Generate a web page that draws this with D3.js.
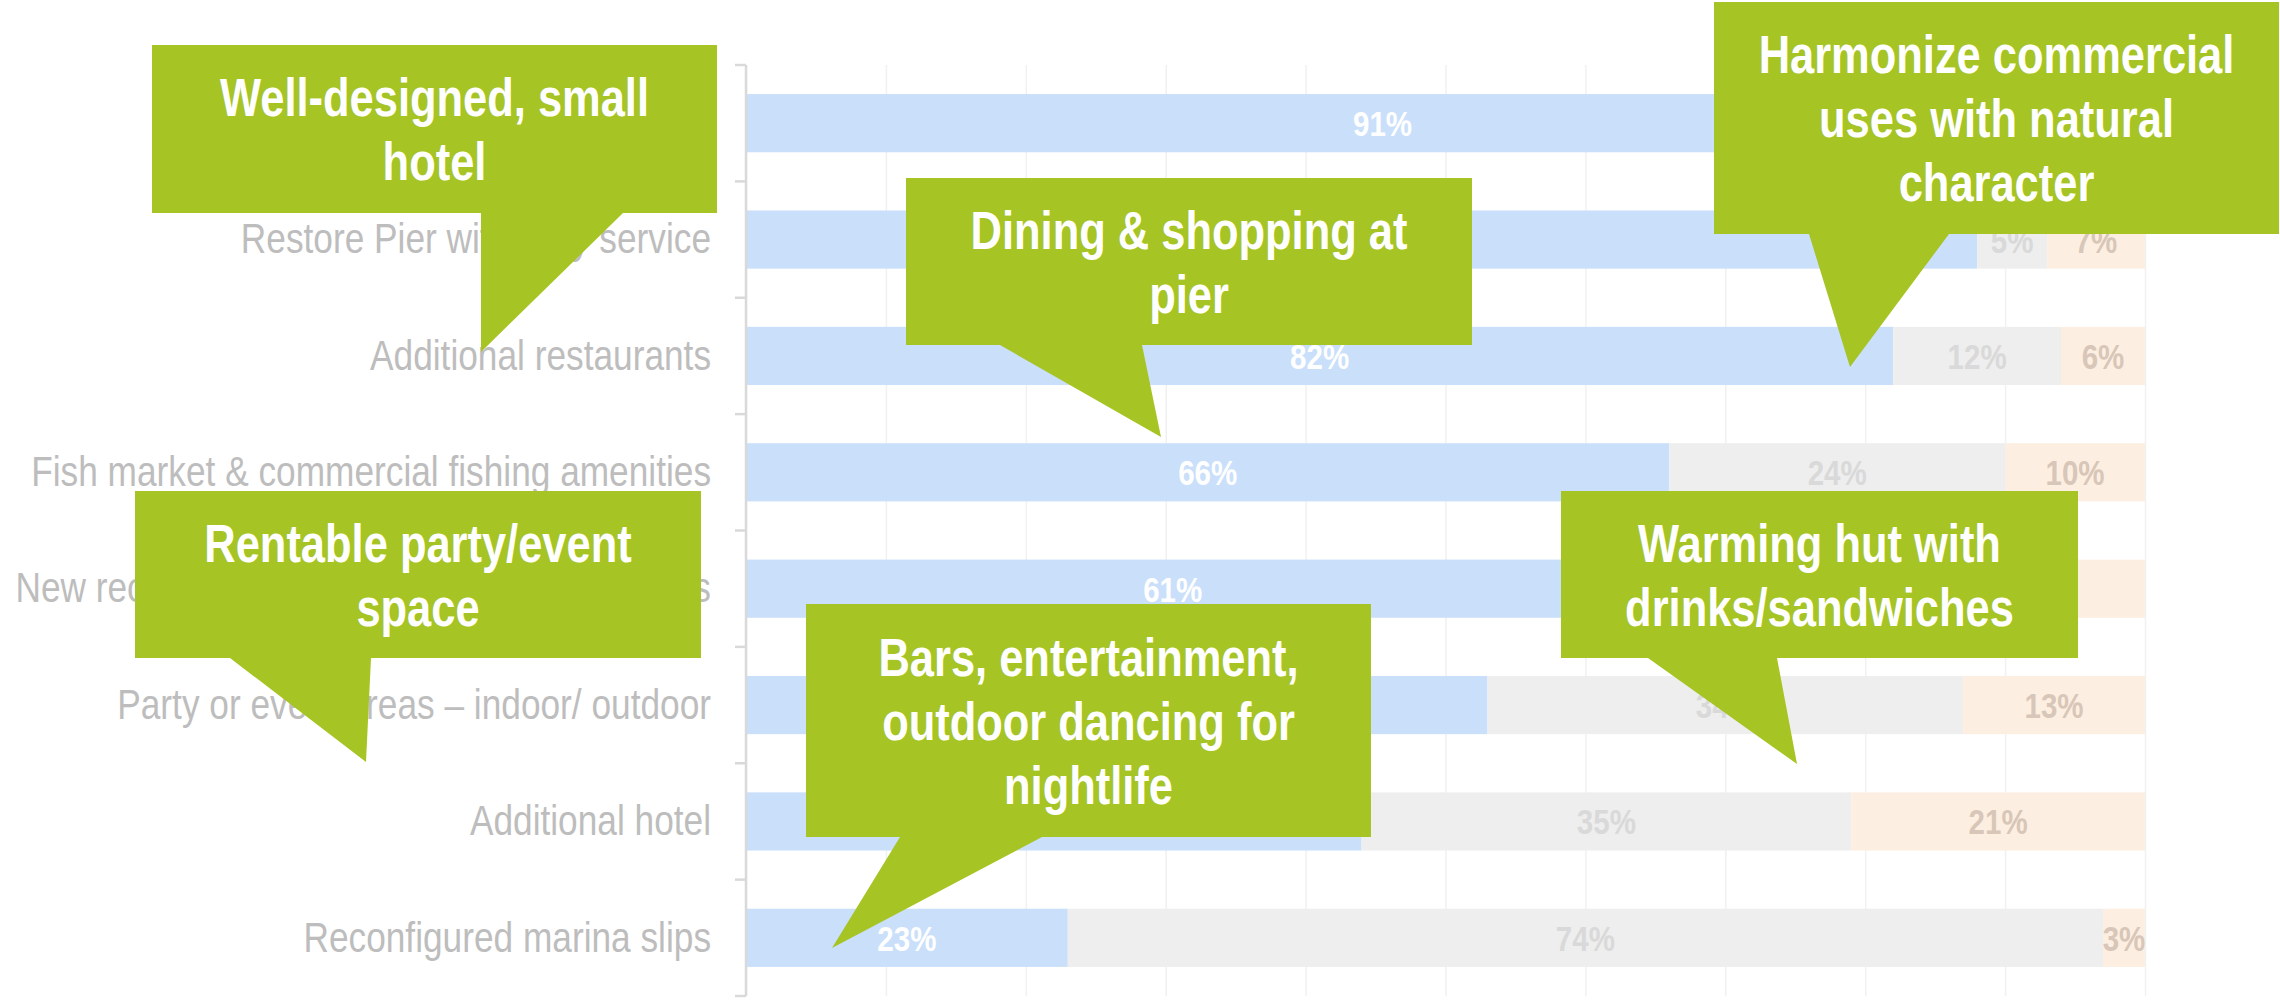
<!DOCTYPE html>
<html>
<head>
<meta charset="utf-8">
<script src="https://cdn.jsdelivr.net/npm/d3@7"></script>
<style>
  html, body { margin: 0; padding: 0; background: #ffffff; }
  svg { display: block; }
</style>
</head>
<body>
<svg id="chart" width="2280" height="1002"></svg>
<script>
// ---------------- DATA ----------------
const categories = [
  "Well-designed, small hotel",
  "Restore Pier with ferry service",
  "Additional restaurants",
  "Fish market & commercial fishing amenities",
  "New recreational facilities & public amenities",
  "Party or event areas \u2013 indoor/ outdoor",
  "Additional hotel",
  "Reconfigured marina slips"
];
const seriesNames = ["Support", "Neutral", "Oppose"];
const supportValues = [91, 88, 82, 66, 61, 53, 44, 23];
const neutralValues = [5, 5, 12, 24, 24, 34, 35, 74];
const opposeValues  = [4, 7, 6, 10, 15, 13, 21, 3];
const gridTicks = [0, 10, 20, 30, 40, 50, 60, 70, 80, 90, 100];

const calloutLines = [
  ["Well-designed, small", "hotel"],
  ["Dining & shopping at", "pier"],
  ["Harmonize commercial", "uses with natural", "character"],
  ["Rentable party/event", "space"],
  ["Warming hut with", "drinks/sandwiches"],
  ["Bars, entertainment,", "outdoor dancing for", "nightlife"]
];

// ---------------- LAYOUT / STYLE ----------------
const plot = { left: 746, right: 2145, top: 65, bottom: 996 };
const colors = { Support: "#cadffa", Neutral: "#eeeeee", Oppose: "#fcefe1" };
const labelColors = { Support: "#ffffff", Neutral: "#d9d9d9", Oppose: "#d8c6b9" };
const green = "#a6c423";
const font = "'Liberation Sans', Arial, sans-serif";
const squeeze = 0.82; // narrow face emulation

// callout geometry (annotation layout, pixels): box [x0,y0,x1,y1], tail base [xl,xr], tip [x,y]
const calloutLayout = [
  { box: [152, 45, 717, 213],   tail: [481, 623],   tip: [481, 352] },
  { box: [906, 178, 1472, 345], tail: [1000, 1142], tip: [1161, 437] },
  { box: [1714, 2, 2279, 234],  tail: [1809, 1949], tip: [1850, 367] },
  { box: [135, 491, 701, 658],  tail: [230, 371],   tip: [366, 762] },
  { box: [1561, 491, 2078, 658],tail: [1648, 1777], tip: [1797, 764] },
  { box: [806, 604, 1371, 837], tail: [900, 1042],  tip: [832, 948] }
];

// ---------------- BUILD ----------------
const table = categories.map((c, i) => ({
  category: c,
  Support: supportValues[i],
  Neutral: neutralValues[i],
  Oppose: opposeValues[i]
}));

const svg = d3.select("#chart");

const x = d3.scaleLinear().domain([0, 100]).range([plot.left, plot.right]);
const y = d3.scaleBand().domain(categories).range([plot.top, plot.bottom])
  .paddingInner(0.5).paddingOuter(0.25);

// vertical gridlines
svg.append("g")
  .attr("transform", `translate(0,${plot.bottom})`)
  .call(d3.axisBottom(x).tickValues(gridTicks).tickSize(-(plot.bottom - plot.top)).tickFormat(""))
  .call(g => g.select(".domain").remove())
  .call(g => g.selectAll(".tick line").attr("stroke", "#f1f1f1").attr("stroke-width", 1.5));

// stacked bars
const stack = d3.stack().keys(seriesNames)(table);
const layers = svg.append("g").selectAll("g.layer").data(stack).join("g")
  .attr("class", "layer")
  .attr("fill", d => colors[d.key]);

layers.selectAll("rect").data(d => d).join("rect")
  .attr("x", d => x(d[0]))
  .attr("y", d => y(d.data.category))
  .attr("width", d => x(d[1]) - x(d[0]))
  .attr("height", y.bandwidth());

// value labels
const labelG = svg.append("g");
stack.forEach(layer => {
  labelG.selectAll(null).data(layer).join("text")
    .attr("transform", d => `translate(${(x(d[0]) + x(d[1])) / 2},${y(d.data.category) + y.bandwidth() / 2}) scale(${squeeze},1)`)
    .attr("dy", "0.36em")
    .attr("text-anchor", "middle")
    .attr("font-family", font)
    .attr("font-weight", "bold")
    .attr("font-size", 36)
    .attr("fill", labelColors[layer.key])
    .text(d => (d[1] - d[0]) + "%");
});

// y axis with category labels
const pad = 35;
const yAxis = svg.append("g")
  .attr("transform", `translate(${plot.left},0)`)
  .call(d3.axisLeft(y).tickSize(0).tickPadding(pad));
yAxis.select(".domain").attr("stroke", "#d9d9d9").attr("stroke-width", 2.5)
  .attr("d", `M0,${plot.top}V${plot.bottom}`);
yAxis.selectAll(".tick text")
  .attr("x", -pad / squeeze)
  .attr("transform", `scale(${squeeze},1)`)
  .attr("font-family", font)
  .attr("font-size", 43)
  .attr("fill", "#bdbdbd");

// band boundary ticks
const half = (y.step() - y.bandwidth()) / 2;
const boundaries = categories.map(c => y(c) - half)
  .concat([y(categories[categories.length - 1]) + y.bandwidth() + half]);
svg.append("g").selectAll("line").data(boundaries).join("line")
  .attr("x1", plot.left - 11).attr("x2", plot.left)
  .attr("y1", d => d).attr("y2", d => d)
  .attr("stroke", "#d9d9d9").attr("stroke-width", 2.5);

// callouts
const callouts = svg.append("g");
calloutLayout.forEach((c, i) => {
  const [x0, y0, x1, y1] = c.box;
  const pts = [[x0, y0], [x1, y0], [x1, y1], [c.tail[1], y1], c.tip, [c.tail[0], y1], [x0, y1]];
  callouts.append("path")
    .attr("d", d3.line()(pts) + "Z")
    .attr("fill", green);
  const lines = calloutLines[i];
  const cx = (x0 + x1) / 2, cy = (y0 + y1) / 2;
  const lh = 64, fs = 53;
  const first = cy - (lines.length - 1) * lh / 2 + fs * 0.36;
  callouts.append("text")
    .attr("transform", `translate(${cx},${first}) scale(${squeeze},1)`)
    .attr("text-anchor", "middle")
    .attr("font-family", font)
    .attr("font-weight", "bold")
    .attr("font-size", fs)
    .attr("fill", "#ffffff")
    .selectAll("tspan").data(lines).join("tspan")
    .attr("x", 0)
    .attr("y", (d, k) => k * lh)
    .text(d => d);
});
</script>
</body>
</html>
